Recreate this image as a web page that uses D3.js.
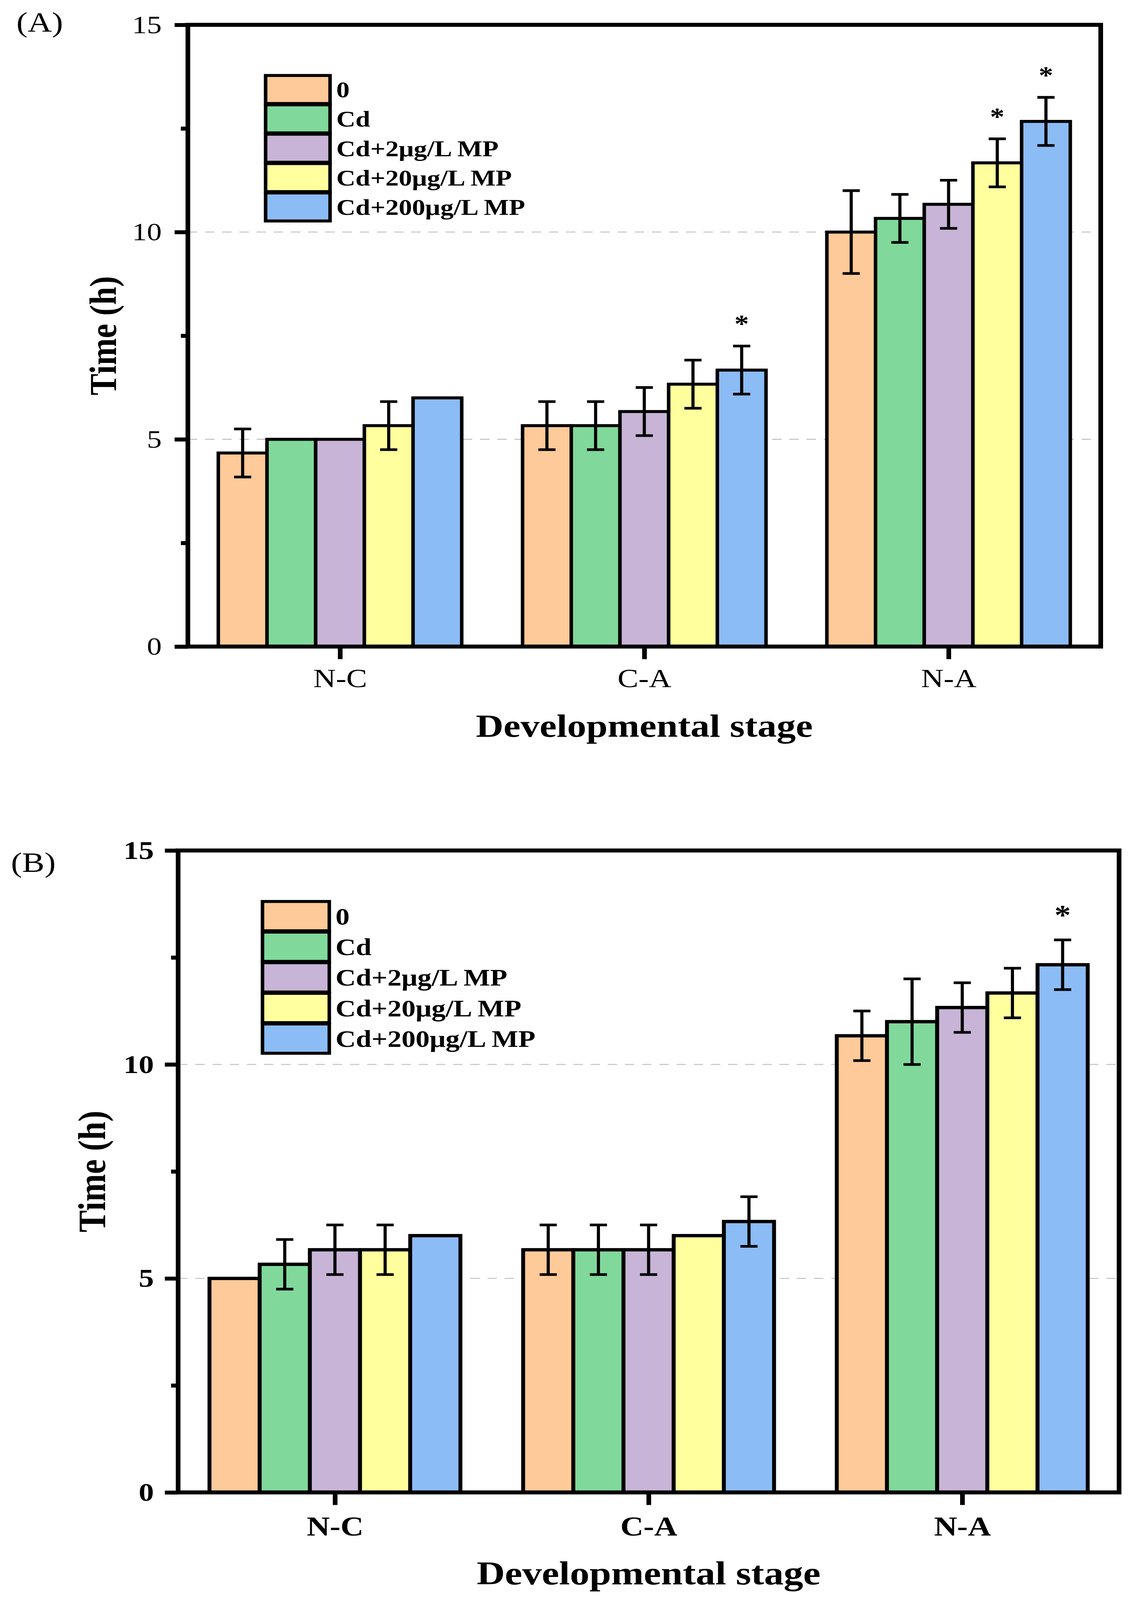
<!DOCTYPE html>
<html>
<head>
<meta charset="utf-8">
<script src="https://cdn.jsdelivr.net/npm/d3@7"></script>
<style>
  html, body { margin: 0; padding: 0; background: #fff; overflow: hidden; }
  svg { display: block; width: 100vw; height: 100vh; font-family: "Liberation Serif", "Times New Roman", serif; }
</style>
</head>
<body>
<div id="chart"></div>
<script>
const stages = ["N-C", "C-A", "N-A"];
const groups = ["0", "Cd", "Cd+2μg/L MP", "Cd+20μg/L MP", "Cd+200μg/L MP"];
const groupColors = ["#ffca99", "#80d99b", "#c8b4d7", "#ffff9e", "#8cbcf5"];
const majorTicks = [0, 5, 10, 15];
const minorTicks = [2.5, 7.5, 12.5];
const gridValues = [5, 10];

// panel A: mean time (h) per stage, one array per treatment
const meanA0 = [4.67, 5.33, 10.0];
const meanACd = [5.0, 5.33, 10.33];
const meanACd2 = [5.0, 5.67, 10.67];
const meanACd20 = [5.33, 6.33, 11.67];
const meanACd200 = [6.0, 6.67, 12.67];
const errA0 = [0.58, 0.58, 1.0];
const errACd = [0, 0.58, 0.58];
const errACd2 = [0, 0.58, 0.58];
const errACd20 = [0.58, 0.58, 0.58];
const errACd200 = [0, 0.58, 0.58];
const starsA = [["C-A", 4], ["N-A", 3], ["N-A", 4]];

// panel B
const meanB0 = [5.0, 5.67, 10.67];
const meanBCd = [5.33, 5.67, 11.0];
const meanBCd2 = [5.67, 5.67, 11.33];
const meanBCd20 = [5.67, 6.0, 11.67];
const meanBCd200 = [6.0, 6.33, 12.33];
const errB0 = [0, 0.58, 0.58];
const errBCd = [0.58, 0.58, 1.0];
const errBCd2 = [0.58, 0.58, 0.58];
const errBCd20 = [0.58, 0, 0.58];
const errBCd200 = [0, 0.58, 0.58];
const starsB = [["N-A", 4]];

const W = 2916, H = 4833;

// scale the drawing to whatever viewport the page gets
const svg = d3.select("#chart").append("svg")
  .attr("viewBox", `0 0 ${W} ${H}`)
  .attr("preserveAspectRatio", "none");

svg.append("rect").attr("width", W).attr("height", H).attr("fill", "#fff");

function drawPanel(cfg) {
  const g = svg.append("g");

  const x = d3.scalePoint().domain(stages).range([cfg.left, cfg.right]).padding(0.5);
  const step = x.step();
  const xg = d3.scaleBand().domain(groups).range([-0.4 * step, 0.4 * step]);
  const y = d3.scaleLinear().domain([0, 15]).range([cfg.bottom, cfg.top]);

  const rows = [];
  stages.forEach((s, si) => {
    groups.forEach((gr, gi) => {
      rows.push({ stage: s, group: gr, gi, mean: cfg.means[gi][si], err: cfg.errs[gi][si] });
    });
  });
  const cx = (d) => x(d.stage) + xg(d.group) + xg.bandwidth() / 2;

  // dashed grid behind the bars
  g.selectAll("line.grid").data(gridValues).join("line")
    .attr("class", "grid")
    .attr("x1", cfg.left).attr("x2", cfg.right)
    .attr("y1", (d) => y(d)).attr("y2", (d) => y(d))
    .attr("stroke", "#c4c4c4").attr("stroke-width", 3)
    .attr("stroke-dasharray", "24 20");

  g.selectAll("rect.bar").data(rows).join("rect")
    .attr("class", "bar")
    .attr("x", (d) => x(d.stage) + xg(d.group))
    .attr("y", (d) => y(d.mean))
    .attr("width", xg.bandwidth())
    .attr("height", (d) => y(0) - y(d.mean))
    .attr("fill", (d) => groupColors[d.gi])
    .attr("stroke", "#000").attr("stroke-width", cfg.barStroke);

  // error bars
  const withErr = rows.filter((d) => d.err > 0);
  const eb = g.selectAll("g.err").data(withErr).join("g").attr("class", "err")
    .attr("stroke", "#000").attr("stroke-width", 8);
  eb.append("line")
    .attr("x1", cx).attr("x2", cx)
    .attr("y1", (d) => y(d.mean + d.err)).attr("y2", (d) => y(d.mean - d.err));
  [1, -1].forEach((sgn) => {
    eb.append("line")
      .attr("x1", (d) => cx(d) - 22).attr("x2", (d) => cx(d) + 22)
      .attr("y1", (d) => y(d.mean + sgn * d.err)).attr("y2", (d) => y(d.mean + sgn * d.err));
  });

  // significance marks
  const starRows = cfg.stars.map(([s, gi]) => rows.find((r) => r.stage === s && r.gi === gi));
  g.selectAll("text.star").data(starRows).join("text")
    .attr("class", "star")
    .attr("x", cx)
    .attr("y", (d) => y(d.mean + d.err) - cfg.starGap)
    .attr("text-anchor", "middle")
    .attr("font-size", cfg.starSize).attr("font-weight", "bold")
    .text("*");

  // frame
  g.append("rect")
    .attr("x", cfg.left).attr("y", cfg.top)
    .attr("width", cfg.right - cfg.left).attr("height", cfg.bottom - cfg.top)
    .attr("fill", "none").attr("stroke", "#000").attr("stroke-width", 12);

  const yAxis = g.append("g").attr("transform", `translate(${cfg.left},0)`)
    .call(d3.axisLeft(y).tickValues(majorTicks).tickSize(34).tickPadding(cfg.yPad).tickFormat(d3.format("d")));
  yAxis.select(".domain").remove();
  yAxis.selectAll("line").attr("stroke-width", 12);
  yAxis.selectAll("text")
    .attr("font-family", "Liberation Serif").attr("font-size", cfg.yTickSize)
    .attr("font-weight", cfg.tickWeight).attr("fill", "#000");

  const yMinor = g.append("g").attr("transform", `translate(${cfg.left},0)`)
    .call(d3.axisLeft(y).tickValues(minorTicks).tickSize(18).tickFormat(""));
  yMinor.select(".domain").remove();
  yMinor.selectAll("line").attr("stroke-width", 12);

  const xAxis = g.append("g").attr("transform", `translate(0,${cfg.bottom})`)
    .call(d3.axisBottom(x).tickSize(38));
  xAxis.select(".domain").remove();
  xAxis.selectAll("line").attr("stroke-width", 12);
  xAxis.selectAll("text")
    .attr("y", cfg.xLabelY).attr("dy", null)
    .attr("font-family", "Liberation Serif").attr("font-size", cfg.xTickSize)
    .attr("font-weight", cfg.tickWeight).attr("fill", "#000");

  // titles
  g.append("text")
    .attr("x", (cfg.left + cfg.right) / 2).attr("y", cfg.xTitleY)
    .attr("text-anchor", "middle").attr("font-size", cfg.titleSize).attr("font-weight", "bold")
    .text("Developmental stage");

  g.append("text")
    .attr("transform", `translate(${cfg.yTitleX},${(cfg.top + cfg.bottom) / 2}) rotate(-90)`)
    .attr("text-anchor", "middle").attr("font-size", cfg.titleSize).attr("font-weight", "bold")
    .text("Time (h)");

  g.append("text")
    .attr("x", cfg.labelX).attr("y", cfg.labelY)
    .attr("font-size", 86)
    .text(cfg.label);

  // legend
  const lg = g.append("g").attr("transform", `translate(${cfg.legX},${cfg.legY})`);
  const item = lg.selectAll("g").data(groups).join("g")
    .attr("transform", (d, i) => `translate(0,${i * cfg.legStep})`);
  item.append("rect")
    .attr("width", cfg.legW).attr("height", cfg.legStep - 4)
    .attr("fill", (d, i) => groupColors[i])
    .attr("stroke", "#000").attr("stroke-width", 9);
  item.append("text")
    .attr("x", cfg.legW + 16).attr("y", (cfg.legStep - 4) / 2)
    .attr("dy", "0.35em")
    .attr("font-size", cfg.legSize).attr("font-weight", "bold")
    .text((d) => d);
}

drawPanel({
  label: "(A)", labelX: 42, labelY: 96,
  left: 481, right: 2818, top: 75, bottom: 1953,
  means: [meanA0, meanACd, meanACd2, meanACd20, meanACd200],
  errs: [errA0, errACd, errACd2, errACd20, errACd200],
  stars: starsA, starSize: 74, starGap: 42,
  barStroke: 9,
  yPad: 33, yTickSize: 76, xTickSize: 80, xLabelY: 123, tickWeight: "normal",
  titleSize: 98, xTitleY: 2225, yTitleX: 297,
  legX: 680, legY: 228, legW: 165, legStep: 88.7, legSize: 68
});

drawPanel({
  label: "(B)", labelX: 28, labelY: 2634,
  left: 456, right: 2865, top: 2569, bottom: 4508,
  means: [meanB0, meanBCd, meanBCd2, meanBCd20, meanBCd200],
  errs: [errB0, errBCd, errBCd2, errBCd20, errBCd200],
  stars: starsB, starSize: 84, starGap: 48,
  barStroke: 10,
  yPad: 28, yTickSize: 78, xTickSize: 82, xLabelY: 130, tickWeight: "bold",
  titleSize: 100, xTitleY: 4786, yTitleX: 269,
  legX: 672, legY: 2723, legW: 171, legStep: 92.5, legSize: 72
});
</script>
</body>
</html>
